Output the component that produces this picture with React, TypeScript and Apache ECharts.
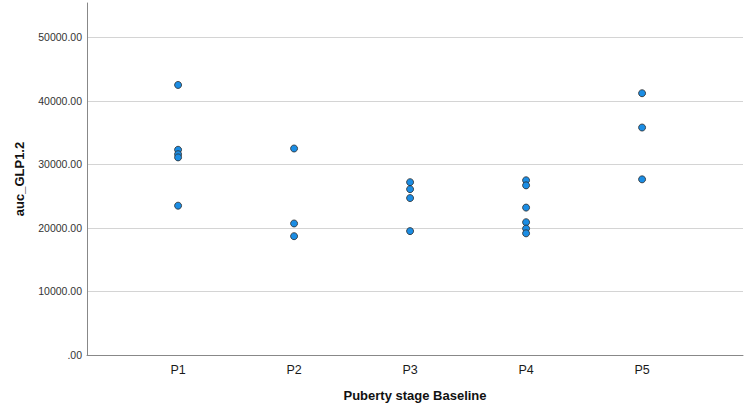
import React, { useEffect, useRef } from "react";
import * as echarts from "echarts";

const categories = ["P1", "P2", "P3", "P4", "P5"];
const p1Values = [42500, 32300, 31600, 31100, 23500];
const p2Values = [32500, 20700, 18700];
const p3Values = [27200, 26100, 24700, 19500];
const p4Values = [27500, 26700, 23200, 20900, 19900, 19150];
const p5Values = [41200, 35800, 27650];
const groups = [p1Values, p2Values, p3Values, p4Values, p5Values];
const yTicks = [0, 10000, 20000, 30000, 40000, 50000];

const FONT = "'Liberation Sans', Arial, Helvetica, sans-serif";

export default function App() {
  const ref = useRef<HTMLDivElement>(null);
  useEffect(() => {
    document.body.style.margin = "0";
    if (!ref.current) return;
    const chart = echarts.init(ref.current, undefined, { renderer: "svg" });
    const data: number[][] = [];
    groups.forEach((g, i) => g.forEach((v) => data.push([i + 1, v])));
    chart.setOption({
      animation: false,
      grid: {
        left: 87,
        right: 1,
        top: 3,
        bottom: 57,
        containLabel: false,
        outerBoundsMode: "none",
      },
      xAxis: {
        type: "value",
        min: 0.215,
        max: 5.87,
        minInterval: 1,
        maxInterval: 1,
        name: "Puberty stage Baseline",
        nameLocation: "middle",
        nameGap: 34,
        nameTextStyle: { fontFamily: FONT, fontWeight: "bold", fontSize: 13, color: "#111" },
        axisLine: { show: true, lineStyle: { color: "#888", width: 1 } },
        axisTick: { show: false },
        splitLine: { show: false },
        axisLabel: {
          margin: 8,
          fontFamily: FONT,
          fontSize: 12.5,
          color: "#1a1a1a",
          showMinLabel: false,
          showMaxLabel: false,
          formatter: (v: number) =>
            Number.isInteger(v) && v >= 1 && v <= categories.length ? categories[v - 1] : "",
        },
      },
      yAxis: {
        type: "value",
        min: yTicks[0],
        max: 55400,
        interval: 10000,
        name: "auc_GLP1.2",
        nameLocation: "middle",
        nameGap: 61,
        nameTextStyle: { fontFamily: FONT, fontWeight: "bold", fontSize: 13, color: "#111" },
        axisLine: { show: true, lineStyle: { color: "#888", width: 1 } },
        axisTick: { show: false },
        axisLabel: {
          margin: 5,
          fontFamily: FONT,
          fontSize: 10.5,
          color: "#333",
          showMaxLabel: false,
          formatter: (v: number) => (v === 0 ? ".00" : v.toFixed(2)),
        },
        splitLine: {
          show: true,
          showMinLine: false,
          showMaxLine: false,
          lineStyle: { color: "#d4d4d4", width: 1 },
        },
      },
      series: [
        {
          type: "scatter",
          data,
          symbol: "circle",
          symbolSize: 7,
          itemStyle: { color: "#1b8de4", borderColor: "#2a2a2a", borderWidth: 0.8, opacity: 1 },
          silent: true,
        },
      ],
    });
    return () => chart.dispose();
  }, []);
  return <div ref={ref} style={{ width: 744, height: 412, background: "#fff" }} />;
}
